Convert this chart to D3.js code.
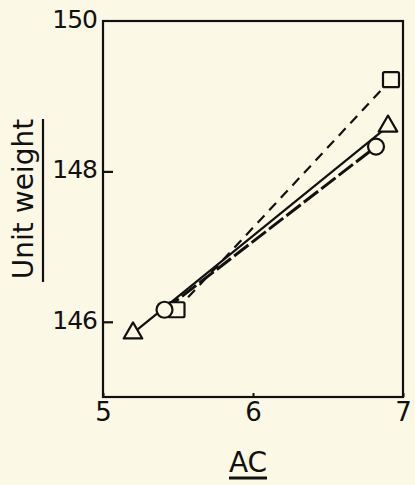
<!DOCTYPE html>
<html>
<head>
<meta charset="utf-8">
<script src="https://cdn.jsdelivr.net/npm/d3@7"></script>
<style>
  html, body { margin: 0; padding: 0; background: #fcf8e6; }
  svg { display: block; }
  text { font-family: "DejaVu Sans", sans-serif; fill: #111; }
</style>
</head>
<body>
<svg id="chart" width="415" height="485"></svg>
<script>
// Unit weight vs. AC, three series with two points each
const seriesNames = ["square", "triangle", "circle"];
const squareAC = [5.49, 6.92];
const squareUW = [146.16, 149.22];
const triangleAC = [5.2, 6.9];
const triangleUW = [145.85, 148.6];
const circleAC = [5.41, 6.82];
const circleUW = [146.16, 148.33];

const xTicks = [5, 6, 7];
const yTicks = [146, 148, 150];

const bg = "#fcf8e6";
const ink = "#111";

const svg = d3.select("#chart");
const x = d3.scaleLinear().domain([5, 7]).range([103, 403]);
const y = d3.scaleLinear().domain([145, 150]).range([397, 21]);

// plot frame
svg.append("rect")
  .attr("x", x(5)).attr("y", y(150))
  .attr("width", x(7) - x(5)).attr("height", y(145) - y(150))
  .attr("fill", "none").attr("stroke", ink).attr("stroke-width", 2.2);

// left axis: inward ticks, labels outside
const yAxis = d3.axisLeft(y).tickValues(yTicks).tickSizeInner(-10).tickSizeOuter(0)
  .tickPadding(6).tickFormat(d3.format("d"));
const gy = svg.append("g").attr("transform", `translate(${x(5)},0)`).call(yAxis);
gy.select(".domain").remove();
gy.selectAll(".tick line").attr("stroke", ink).attr("stroke-width", 2.2)
  .attr("opacity", d => d === 150 ? 0 : 1);
gy.selectAll(".tick text").attr("font-size", 25).attr("fill", ink)
  .attr("font-family", "DejaVu Sans, sans-serif").attr("dy", "0.25em").attr("letter-spacing", -1);

// bottom axis
const xAxis = d3.axisBottom(x).tickValues(xTicks).tickSizeInner(-4).tickSizeOuter(0)
  .tickPadding(10).tickFormat(d3.format("d"));
const gx = svg.append("g").attr("transform", `translate(0,${y(145)})`).call(xAxis);
gx.select(".domain").remove();
gx.selectAll(".tick line").attr("stroke", ink).attr("stroke-width", 2);
gx.selectAll(".tick text").attr("font-size", 26).attr("fill", ink)
  .attr("font-family", "DejaVu Sans, sans-serif").attr("dy", "0.55em");

// axis titles with underlines
svg.append("text").attr("x", 248).attr("y", 472).attr("text-anchor", "middle")
  .attr("font-size", 28).text("AC");
svg.append("line").attr("x1", 229).attr("x2", 267).attr("y1", 478).attr("y2", 478)
  .attr("stroke", ink).attr("stroke-width", 3);

svg.append("text").attr("transform", "translate(33,199) rotate(-90)")
  .attr("text-anchor", "middle").attr("font-size", 28).text("Unit weight");
svg.append("line").attr("x1", 43).attr("x2", 43).attr("y1", 119).attr("y2", 282)
  .attr("stroke", ink).attr("stroke-width", 2.2);

// connecting lines
const line = d3.line().x(d => x(d[0])).y(d => y(d[1]));
const sq = d3.zip(squareAC, squareUW);
const tri = d3.zip(triangleAC, triangleUW);
const cir = d3.zip(circleAC, circleUW);

svg.append("path").datum(sq).attr("d", line).attr("fill", "none")
  .attr("stroke", ink).attr("stroke-width", 2.2).attr("stroke-dasharray", "10,7");
svg.append("path").datum(tri).attr("d", line).attr("fill", "none")
  .attr("stroke", ink).attr("stroke-width", 2.2);
svg.append("path").datum(cir).attr("d", line).attr("fill", "none")
  .attr("stroke", ink).attr("stroke-width", 3).attr("stroke-dasharray", "18,4");

// markers, hollow over background
const s = 16;
svg.selectAll("rect.sq").data(sq).join("rect").attr("class", "sq")
  .attr("x", d => x(d[0]) - s / 2).attr("y", d => y(d[1]) - s / 2 + 0.5)
  .attr("width", s).attr("height", s - 1).attr("rx", 1.5)
  .attr("fill", bg).attr("stroke", ink).attr("stroke-width", 2.2);

const triPath = d3.symbol().type(d3.symbolTriangle).size(150);
svg.selectAll("path.tri").data(tri).join("path").attr("class", "tri")
  .attr("d", triPath)
  .attr("transform", d => `translate(${x(d[0])},${y(d[1])})`)
  .attr("fill", bg).attr("stroke", ink).attr("stroke-width", 2.2).attr("stroke-linejoin", "round");

svg.selectAll("circle.cir").data(cir).join("circle").attr("class", "cir")
  .attr("cx", d => x(d[0])).attr("cy", d => y(d[1])).attr("r", 8)
  .attr("fill", bg).attr("stroke", ink).attr("stroke-width", 2.2);
</script>
</body>
</html>
